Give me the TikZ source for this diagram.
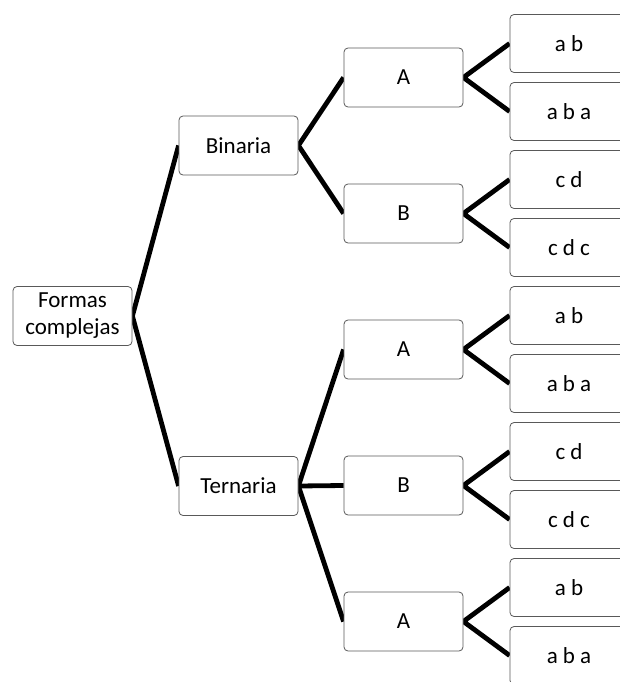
\documentclass[tikz,border=0pt]{standalone}
\usepackage{fontspec}
\setmainfont{Carlito}
\usetikzlibrary{backgrounds}
\tikzset{
  box/.style={draw=black!65, line width=0.8pt, fill=white, rounded corners=4pt,
    minimum width=119pt, minimum height=59pt, inner sep=0pt, align=center,
    font=\fontsize{23}{27}\selectfont},
  leaf/.style={box, minimum width=118pt, minimum height=58pt},
  conn/.style={line width=4.8pt, black, line join=miter}
}
\begin{document}
\begin{tikzpicture}[x=1pt,y=-1pt]
\path[use as bounding box] (0,0) rectangle (620,682);
\clip (0,0) rectangle (620,682);
\node[box] (root) at (72.5,316) {Formas\\complejas};
\node[box] (bin) at (238.5,145.5) {Binaria};
\node[box] (ter) at (238.5,486) {Ternaria};
\node[box] (a1) at (403.5,77.5) {A};
\node[box] (b1) at (403.5,213.5) {B};
\node[box] (a2) at (403.5,349.5) {A};
\node[box] (b2) at (403.5,485.5) {B};
\node[box] (a3) at (403.5,621.5) {A};
\node[leaf] (l1) at (569,43.5) {a b};
\node[leaf] (l2) at (569,111.5) {a b a};
\node[leaf] (l3) at (569,179.5) {c d};
\node[leaf] (l4) at (569,247.5) {c d c};
\node[leaf] (l5) at (569,315.5) {a b};
\node[leaf] (l6) at (569,383.5) {a b a};
\node[leaf] (l7) at (569,451.5) {c d};
\node[leaf] (l8) at (569,519.5) {c d c};
\node[leaf] (l9) at (569,587.5) {a b};
\node[leaf] (l10) at (569,655.5) {a b a};
\begin{pgfonlayer}{background}
\draw[conn] (bin.west) -- (root.east) -- (ter.west);
\draw[conn] (a1.west) -- (bin.east) -- (b1.west);
\draw[conn] (a2.west) -- (ter.east) -- (a3.west);
\draw[conn] (ter.east) -- (b2.west);
\draw[conn] (l1.west) -- (a1.east) -- (l2.west);
\draw[conn] (l3.west) -- (b1.east) -- (l4.west);
\draw[conn] (l5.west) -- (a2.east) -- (l6.west);
\draw[conn] (l7.west) -- (b2.east) -- (l8.west);
\draw[conn] (l9.west) -- (a3.east) -- (l10.west);
\end{pgfonlayer}
\end{tikzpicture}
\end{document}
